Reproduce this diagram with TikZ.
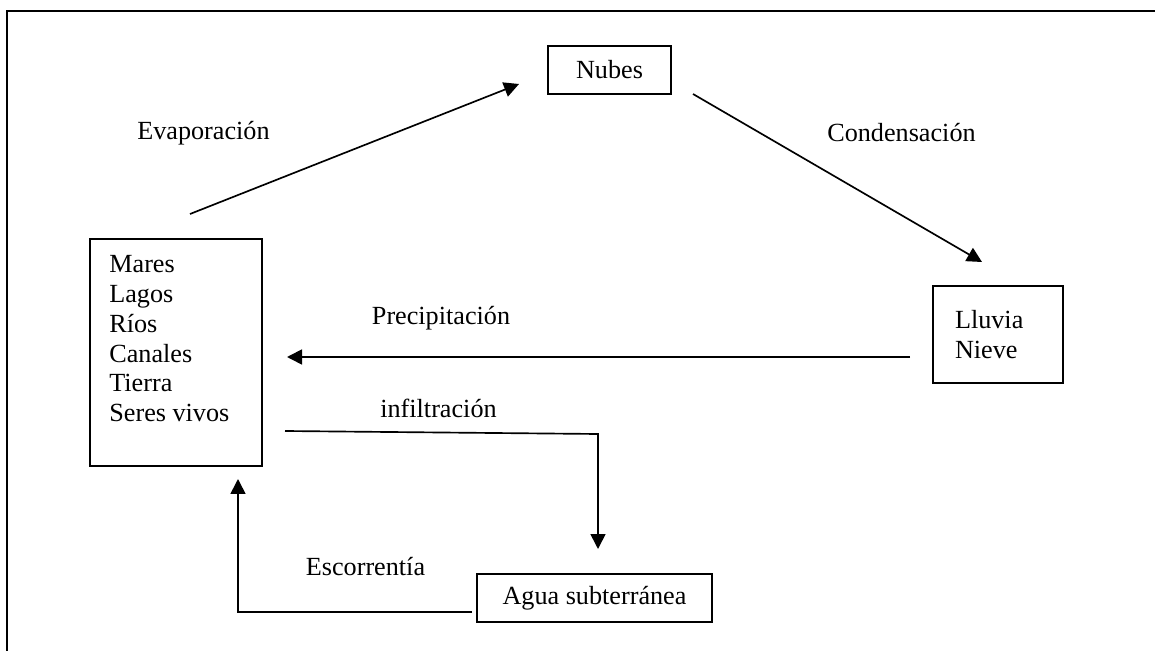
\documentclass[tikz,border=0pt]{standalone}
\usepackage{fontspec}
\setmainfont{Liberation Serif}
\usetikzlibrary{arrows.meta,positioning}

\begin{document}
\begin{tikzpicture}[x=0.02cm, y=-0.02cm,
    every node/.style={font=\fontsize{14.9}{17}\selectfont},
    box/.style={rectangle, draw, line width=1.1pt, inner sep=0pt},
    flow/.style={line width=0.95pt, -{Triangle[length=0.3cm, width=0.3cm]}}]
    \useasboundingbox (0,0) rectangle (1155,651);
    \draw[line width=1.3pt] (1155,11) -- (7,11) -- (7,651);

    \node[box, minimum width=2.46cm, minimum height=0.96cm] at (609.5,70) (nubes) {Nubes};
    \node[box, minimum width=2.6cm, minimum height=1.94cm, text width=1.72cm, inner xsep=0.44cm, align=left] at (998,334.5) (lluvia) {Lluvia\\Nieve};
    \node[box, minimum width=3.44cm, minimum height=4.54cm] at (176,352.5) (mares) {};
    \node[anchor=north west, inner sep=0pt, align=left] at (109,255) (maresList) {Mares\\Lagos\\Ríos\\Canales\\Tierra\\Seres vivos};
    \node[box, minimum width=4.7cm, minimum height=0.96cm] at (594.5,598) (agua) {Agua subterránea};

    \node at (203.5,133) (evapLabel) {Evaporación};
    \node at (901.5,133) (condLabel) {Condensación};
    \node at (441,318) (precLabel) {Precipitación};
    \node at (438.5,408) (infLabel) {infiltración};
    \node at (365.5,567) (escLabel) {Escorrentía};

    \coordinate (evapA) at (190,214);
    \coordinate (evapB) at (519,84);
    \coordinate (condA) at (693,94);
    \coordinate (condB) at (982,262);
    \coordinate (precA) at (910,357);
    \coordinate (precB) at (287,357);
    \coordinate (infA) at (285,431);
    \coordinate (infB) at (598,434);
    \coordinate (infC) at (598,549);
    \coordinate (escA) at (472,612);
    \coordinate (escB) at (238,612);
    \coordinate (escC) at (238,479);

    \draw[flow] (evapA) -- (evapB);
    \draw[flow] (condA) -- (condB);
    \draw[flow] (precA) -- (precB);
    \draw[flow] (infA) -- (infB) -- (infC);
    \draw[flow] (escA) -- (escB) -- (escC);
\end{tikzpicture}
\end{document}
